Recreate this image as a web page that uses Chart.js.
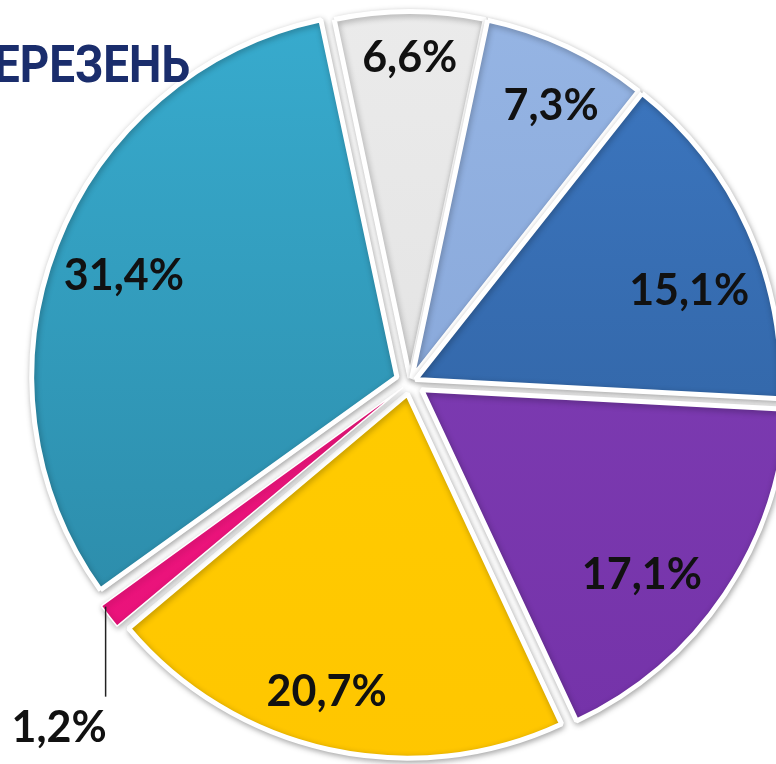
<!DOCTYPE html>
<html>
<head>
<meta charset="utf-8">
<script src="https://cdn.jsdelivr.net/npm/chart.js@4.4.1/dist/chart.umd.min.js"></script>
<style>
  html, body { margin: 0; padding: 0; background: #ffffff; }
  #wrap { width: 776px; height: 764px; position: relative; overflow: hidden; }
</style>
</head>
<body>
<div id="wrap"><canvas id="c" width="776" height="764"></canvas></div>
<script>
// ---- data ----
const titleText = 'БЕРЕЗЕНЬ';
const categories = ['Сегмент 1', 'Сегмент 2', 'Сегмент 3', 'Сегмент 4', 'Сегмент 5', 'Сегмент 6', 'Сегмент 7'];
const values = [6.6, 7.3, 15.1, 17.1, 20.7, 1.2, 31.4];
const valueLabels = ['6,6%', '7,3%', '15,1%', '17,1%', '20,7%', '1,2%', '31,4%'];

// ---- styles ----
const colorsTop    = ['#ebebeb', '#96b5e4', '#3d78c2', '#8241b8', '#ffd000', '#f21c7e', '#38accf'];
const colorsBottom = ['#dedede', '#7e9ed2', '#2c5b97', '#7432a8', '#ffc600', '#e8107a', '#2a85a2'];
const sliceOffsets = [16, 16, 24, 56, 48, 36, 56]; // Chart.js offset units (px*4)
const sliceBorders = [5, 5, 5, 5, 5, 1.5, 5];
const labelRadius  = [0.88, 0.84, 0.79, 0.79, 0.85, 1, 0.80];
const labelTurnDeg = [0, 2, 6.5, 6, 2.7, 1.5, -0.8];
const outsideLabelIndex = 5;

function sliceColor(ctx) {
  const chart = ctx.chart;
  const i = ctx.dataIndex;
  if (!chart.chartArea) return colorsTop[i];
  const g = chart.ctx.createLinearGradient(0, 0, 0, chart.height);
  g.addColorStop(0, colorsTop[i]);
  g.addColorStop(1, colorsBottom[i]);
  return g;
}

const shadowPlugin = {
  id: 'shadow',
  beforeDatasetsDraw(chart) {
    const c = chart.ctx;
    c.save();
    c.shadowColor = 'rgba(0,0,0,0.30)';
    c.shadowBlur = 6;
    c.shadowOffsetX = 1;
    c.shadowOffsetY = 2;
  },
  afterDatasetsDraw(chart) {
    chart.ctx.restore();
  }
};

const labelPlugin = {
  id: 'sliceLabels',
  afterDatasetsDraw(chart) {
    const c = chart.ctx;
    const meta = chart.getDatasetMeta(0);
    c.save();
    c.font = 'bold 43px Lato, "Open Sans", sans-serif';
    c.fillStyle = '#111111';
    c.strokeStyle = '#222222';
    meta.data.forEach((arc, i) => {
      const p = arc.getProps(['x', 'y', 'startAngle', 'endAngle', 'outerRadius', 'circumference'], true);
      const mid = (p.startAngle + p.endAngle) / 2;
      const off = (arc.options.offset || 0) / 4;
      const cx = p.x + Math.cos(mid) * off;
      const cy = p.y + Math.sin(mid) * off;
      const a = mid + labelTurnDeg[i] * Math.PI / 180;
      if (i === outsideLabelIndex) {
        const fix = 1 - Math.sin(Math.min(Math.PI, p.circumference || 0));
        const rr = p.outerRadius + off * fix - 3;
        const ex = cx + Math.cos(a) * rr;
        const ey = cy + Math.sin(a) * rr;
        c.lineWidth = 1.5;
        c.beginPath();
        c.moveTo(ex, ey);
        c.lineTo(ex, ey + 90);
        c.stroke();
        c.textAlign = 'right';
        c.textBaseline = 'middle';
        c.fillText(valueLabels[i], ex + 1, ey + 121);
      } else {
        const r = p.outerRadius * labelRadius[i];
        c.textAlign = 'center';
        c.textBaseline = 'middle';
        c.fillText(valueLabels[i], cx + Math.cos(a) * r, cy + Math.sin(a) * r);
      }
    });
    c.restore();
  }
};

const titlePlugin = {
  id: 'cornerTitle',
  afterDraw(chart) {
    const c = chart.ctx;
    c.save();
    c.font = 'bold 52px Roboto, "Open Sans", sans-serif';
    c.fillStyle = '#1a2d6c';
    c.textBaseline = 'alphabetic';
    c.textAlign = 'left';
    const full = c.measureText(titleText).width;
    const tail = c.measureText(titleText.slice(1)).width;
    const sx = 196 / tail;
    c.translate(190, 82);
    c.scale(sx, 1);
    c.fillText(titleText, -full, 0);
    c.restore();
  }
};

new Chart(document.getElementById('c'), {
  type: 'pie',
  data: {
    labels: categories,
    datasets: [{
      data: values,
      backgroundColor: sliceColor,
      borderColor: '#ffffff',
      borderWidth: sliceBorders,
      offset: sliceOffsets,
      clip: false
    }]
  },
  options: {
    responsive: false,
    animation: false,
    rotation: -12,
    radius: 364,
    layout: { padding: { left: 44, right: 0, top: 0, bottom: 0 } },
    plugins: {
      legend: { display: false },
      tooltip: { enabled: false },
      title: { display: false }
    }
  },
  plugins: [shadowPlugin, labelPlugin, titlePlugin]
});
</script>
</body>
</html>
